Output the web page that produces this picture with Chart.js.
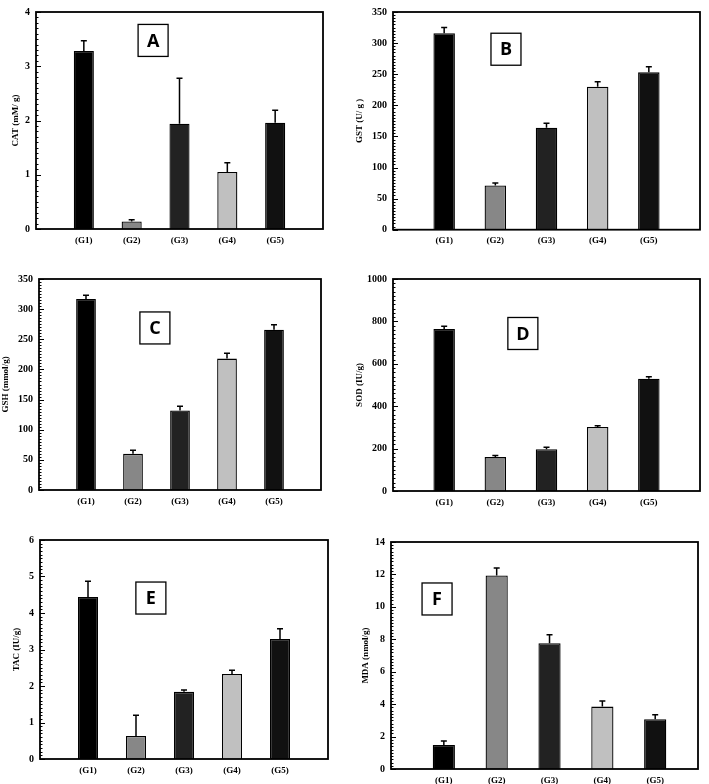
<!DOCTYPE html>
<html>
<head>
<meta charset="utf-8">
<script src="https://cdn.jsdelivr.net/npm/chart.js@4/dist/chart.umd.min.js"></script>
<style>
    body { margin: 0; background: #fff; width: 709px; height: 784px; position: relative; overflow: hidden; }
    canvas { position: absolute; }
</style>
</head>
<body>
<canvas id="cA"></canvas>
<canvas id="cB"></canvas>
<canvas id="cC"></canvas>
<canvas id="cD"></canvas>
<canvas id="cE"></canvas>
<canvas id="cF"></canvas>
<script>
// nhóm và số liệu
var groups = ['(G1)', '(G2)', '(G3)', '(G4)', '(G5)'];

var catMean = [3.28, 0.14, 1.94, 1.05, 1.96];
var catErr = [0.19, 0.03, 0.84, 0.17, 0.23];

var gstMean = [316, 71, 164, 230, 253];
var gstErr = [9, 4, 7, 8, 9];

var gshMean = [317, 60, 132, 218, 266];
var gshErr = [6, 6, 7, 9, 8];

var sodMean = [764, 160, 197, 302, 530];
var sodErr = [13, 7, 9, 6, 9];

var tacMean = [4.44, 0.63, 1.84, 2.33, 3.29];
var tacErr = [0.43, 0.57, 0.05, 0.10, 0.28];

var mdaMean = [1.48, 11.94, 7.76, 3.85, 3.07];
var mdaErr = [0.25, 0.45, 0.52, 0.35, 0.27];

var barColors = ['#000000', '#878787', '#222222', '#c0c0c0', '#111111'];

// vị trí các ô biểu đồ trên trang
var panels = [
    { id: 'cA', letter: 'A', title: 'CAT (mM/ g)', mean: catMean, err: catErr, yMax: 4, yStep: 1, xMax: 6,
      box: [0, 0, 354, 256], plot: [36, 3.5, 323, 229], titlePad: 10, lab: [0.408, 0.131] },
    { id: 'cB', letter: 'B', title: 'GST (U/ g )', mean: gstMean, err: gstErr, yMax: 350, yStep: 50, xMax: 6,
      box: [354, 0, 355, 256], plot: [393, 6, 700, 229.7], titlePad: 0, lab: [0.368, 0.171] },
    { id: 'cC', letter: 'C', title: 'GSH (mmol/g)', mean: gshMean, err: gshErr, yMax: 350, yStep: 50, xMax: 6,
      box: [0, 256, 354, 258], plot: [39, 279, 321, 490], titlePad: 0, lab: [0.411, 0.232] },
    { id: 'cD', letter: 'D', title: 'SOD (IU/g)', mean: sodMean, err: sodErr, yMax: 1000, yStep: 200, xMax: 6,
      box: [354, 256, 355, 258], plot: [393, 279, 700, 491], titlePad: 0, lab: [0.423, 0.257] },
    { id: 'cE', letter: 'E', title: 'TAC (IU/g)', mean: tacMean, err: tacErr, yMax: 6, yStep: 1, xMax: 6,
      box: [0, 514, 354, 270], plot: [40, 540, 328, 759], titlePad: 11.6, lab: [0.385, 0.265] },
    { id: 'cF', letter: 'F', title: 'MDA (nmol/g)', mean: mdaMean, err: mdaErr, yMax: 14, yStep: 2, xMax: 5.81,
      box: [354, 514, 355, 270], plot: [391, 542, 698, 769], titlePad: 6.5, lab: [0.15, 0.251] }
];

// khung, vạch chia, thanh sai số và nhãn chữ
var panelPlugin = {
    id: 'panelDecor',
    afterDatasetsDraw: function (chart) {
        var p = chart.options.plugins.panelDecor;
        var ctx = chart.ctx;
        var xs = chart.scales.x, ys = chart.scales.y;
        ctx.save();
        ctx.strokeStyle = '#000';
        ctx.lineWidth = 1.5;
        p.mean.forEach(function (m, i) {
            var x = xs.getPixelForValue(i + 1);
            var y1 = ys.getPixelForValue(m);
            var y2 = ys.getPixelForValue(m + p.err[i]);
            ctx.beginPath();
            ctx.moveTo(x, y1);
            ctx.lineTo(x, y2);
            ctx.moveTo(x - 3, y2);
            ctx.lineTo(x + 3, y2);
            ctx.stroke();
        });
        ctx.restore();
    },
    afterDraw: function (chart) {
        var p = chart.options.plugins.panelDecor;
        var ctx = chart.ctx;
        var a = chart.chartArea;
        var ys = chart.scales.y;
        ctx.save();
        ctx.strokeStyle = '#000';
        // vạch chia trục tung (hướng vào trong)
        ctx.lineWidth = 1;
        var minor = p.yStep / 10;
        for (var k = 0; k <= Math.round(p.yMax / minor); k++) {
            var y = Math.round(ys.getPixelForValue(k * minor)) + 0.5;
            var len = (k % 10 === 0) ? 5 : 2.5;
            ctx.beginPath();
            ctx.moveTo(a.left, y);
            ctx.lineTo(a.left + len, y);
            ctx.stroke();
        }
        // khung
        ctx.lineWidth = 1.8;
        ctx.strokeRect(a.left, a.top, a.right - a.left, a.bottom - a.top);
        // ô chữ cái
        var cx = a.left + p.lab[0] * (a.right - a.left);
        var cy = a.top + p.lab[1] * (a.bottom - a.top);
        ctx.fillStyle = '#fff';
        ctx.fillRect(cx - 15, cy - 16, 30, 32);
        ctx.lineWidth = 1.3;
        ctx.strokeRect(cx - 15, cy - 16, 30, 32);
        ctx.fillStyle = '#000';
        ctx.font = 'bold 18px "Open Sans"';
        ctx.textAlign = 'center';
        ctx.textBaseline = 'middle';
        ctx.fillText(p.letter, cx, cy + 1);
        ctx.restore();
    }
};

panels.forEach(function (p) {
    var canvas = document.getElementById(p.id);
    canvas.width = p.box[2];
    canvas.height = p.box[3];
    canvas.style.left = p.box[0] + 'px';
    canvas.style.top = p.box[1] + 'px';

    var yWidth = p.plot[0] - p.box[0];
    var xHeight = p.box[1] + p.box[3] - p.plot[3];

    new Chart(canvas.getContext('2d'), {
        type: 'bar',
        data: {
            datasets: [{
                data: p.mean.map(function (v, i) { return { x: i + 1, y: v }; }),
                backgroundColor: barColors,
                borderColor: '#000',
                borderWidth: 1.3,
                barPercentage: 0.42,
                categoryPercentage: 1
            }]
        },
        options: {
            responsive: false,
            animation: false,
            devicePixelRatio: 1,
            layout: {
                padding: { left: 0, bottom: 0, top: p.plot[1] - p.box[1], right: p.box[0] + p.box[2] - p.plot[2] }
            },
            plugins: {
                legend: { display: false },
                tooltip: { enabled: false },
                panelDecor: { mean: p.mean, err: p.err, yMax: p.yMax, yStep: p.yStep, letter: p.letter, lab: p.lab }
            },
            scales: {
                x: {
                    type: 'linear',
                    min: 0,
                    max: p.xMax,
                    offset: false,
                    grid: { display: false, drawTicks: false, offset: false },
                    border: { display: false },
                    afterBuildTicks: function (scale) {
                        scale.ticks = groups.map(function (g, i) { return { value: i + 1 }; });
                    },
                    afterFit: function (scale) { scale.height = xHeight; },
                    ticks: {
                        padding: 6,
                        color: '#000',
                        font: { family: 'Liberation Serif', weight: 'bold', size: 9 },
                        callback: function (v) { return groups[v - 1]; }
                    }
                },
                y: {
                    min: 0,
                    max: p.yMax,
                    grid: { display: false, drawTicks: false },
                    border: { display: false },
                    afterFit: function (scale) { scale.width = yWidth; },
                    ticks: {
                        stepSize: p.yStep,
                        padding: 6,
                        color: '#000',
                        font: { family: 'Liberation Serif', weight: 'bold', size: 10 },
                        callback: function (v) { return String(v); }
                    },
                    title: {
                        display: true,
                        text: p.title,
                        color: '#000',
                        padding: { top: p.titlePad, bottom: 0 },
                        font: { family: 'Liberation Serif', weight: 'bold', size: 9 }
                    }
                }
            }
        },
        plugins: [panelPlugin]
    });
});
</script>
</body>
</html>
